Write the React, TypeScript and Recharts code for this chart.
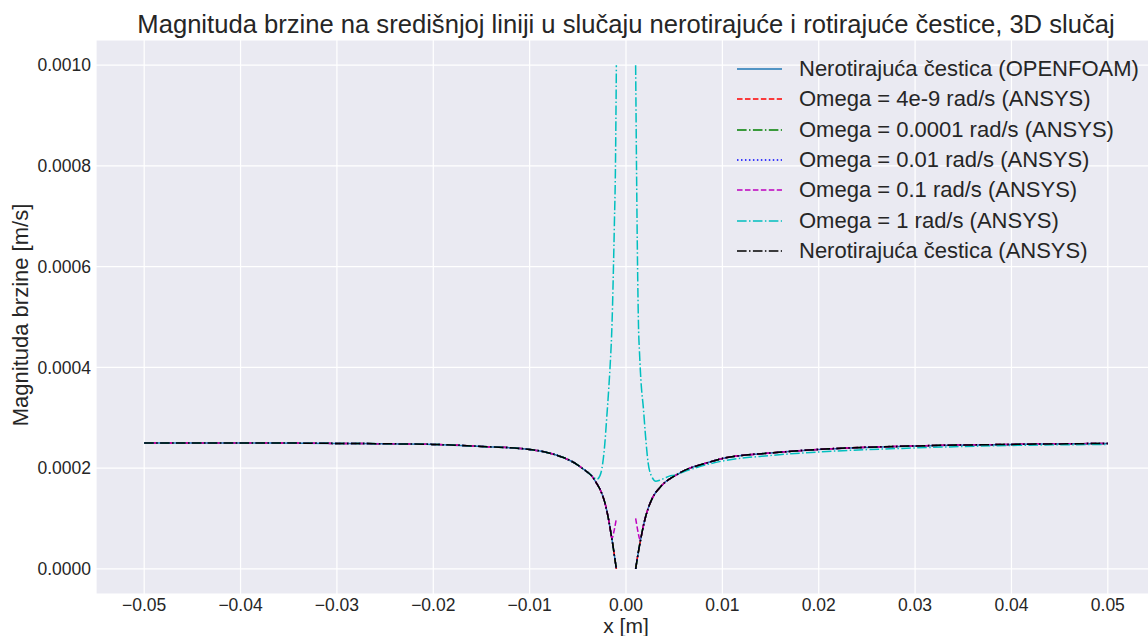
import { CartesianGrid, Line, LineChart, XAxis, YAxis } from "recharts";

// x positions along the centre line [m]; 0 is the particle (no data there)
const xs = [
  -0.05, -0.04, -0.03, -0.02, -0.015, -0.01, -0.008, -0.0065, -0.005, -0.0045, -0.004, -0.0035,
  -0.003, -0.0027, -0.0025, -0.0022, -0.002, -0.0018, -0.0016, -0.0015, -0.0014, -0.0013, -0.0012,
  -0.0011, -0.001, 0, 0.001, 0.0011, 0.0012, 0.0013, 0.0014, 0.0015, 0.0016, 0.0018, 0.002, 0.0023,
  0.0027, 0.0031, 0.0035, 0.004, 0.0045, 0.005, 0.0065, 0.008, 0.01, 0.015, 0.02, 0.03, 0.04, 0.05,
];

// non-rotating particle (OPENFOAM and ANSYS cases lie on top of each other)
const velNonRotating = [
  0.00025, 0.00025, 0.000249, 0.000247, 0.000243, 0.000237, 0.00023, 0.000221, 0.000206, 0.000199,
  0.000192, 0.000183, 0.000168, 0.000158, 0.000149, 0.000132, 0.000116, 0.000097, 0.000075, 0.000063,
  0.000052, 0.000039, 0.000026, 0.000013, 0.0, null, 0.0, 0.000012, 0.000024, 0.000035, 0.000046,
  0.000056, 0.000066, 0.000085, 0.000101, 0.00012, 0.000139, 0.000152, 0.000161, 0.000171, 0.000178,
  0.000184, 0.000199, 0.000208, 0.000219, 0.00023, 0.000237, 0.000244, 0.000247, 0.000249,
];

// omega = 0.1 rad/s
const velOmega01 = [
  0.00025, 0.00025, 0.000249, 0.000247, 0.000243, 0.000237, 0.00023, 0.000221, 0.000206, 0.000199,
  0.000192, 0.000183, 0.000168, 0.000158, 0.000149, 0.000132, 0.000116, 0.000097, 0.000075, 0.000063,
  0.000062, 0.00007, 0.000079, 0.000089, 0.0001, null, 0.0001, 0.000089, 0.000078, 0.000068, 0.00006,
  0.000059, 0.000066, 0.000085, 0.000101, 0.00012, 0.000139, 0.000152, 0.000161, 0.000171, 0.000178,
  0.000184, 0.000199, 0.000208, 0.000219, 0.00023, 0.000237, 0.000244, 0.000247, 0.000249,
];

// omega = 1 rad/s
const velOmega1 = [
  0.00025, 0.00025, 0.000249, 0.000247, 0.000243, 0.000237, 0.00023, 0.000221, 0.000206, 0.000199,
  0.000192, 0.000184, 0.000178, 0.000185, 0.000199, 0.000248, 0.0003, 0.000355, 0.00042, 0.00046,
  0.00052, 0.0006, 0.00069, 0.00079, 0.001, null, 0.001, 0.00078, 0.0006, 0.00048, 0.00043,
  0.00039, 0.00036, 0.00032, 0.00027, 0.00021, 0.000182, 0.000174, 0.000176, 0.00018, 0.000184,
  0.000186, 0.000196, 0.000205, 0.000214, 0.000225, 0.000232, 0.00024, 0.000245, 0.000247,
];

const xTicks = [-0.05, -0.04, -0.03, -0.02, -0.01, 0, 0.01, 0.02, 0.03, 0.04, 0.05];
const yTicks = [0, 0.0002, 0.0004, 0.0006, 0.0008, 0.001];

const data = xs.map((x, i) => ({
  x,
  openfoam: velNonRotating[i],
  om4e9: velNonRotating[i],
  om00001: velNonRotating[i],
  om001: velNonRotating[i],
  om01: velOmega01[i],
  om1: velOmega1[i],
  ansysNonRot: velNonRotating[i],
}));

const series = [
  { key: "openfoam", name: "Nerotirajuća čestica (OPENFOAM)", color: "#1f77b4", dash: undefined },
  { key: "om4e9", name: "Omega = 4e-9 rad/s (ANSYS)", color: "#ff0000", dash: "5.55 2.4" },
  { key: "om00001", name: "Omega = 0.0001 rad/s (ANSYS)", color: "#008000", dash: "9.6 2.4 1.5 2.4" },
  { key: "om001", name: "Omega = 0.01 rad/s (ANSYS)", color: "#0000ff", dash: "1.5 2.475" },
  { key: "om01", name: "Omega = 0.1 rad/s (ANSYS)", color: "#bf00bf", dash: "5.55 2.4" },
  { key: "om1", name: "Omega = 1 rad/s (ANSYS)", color: "#00bfbf", dash: "9.6 2.4 1.5 2.4" },
  { key: "ansysNonRot", name: "Nerotirajuća čestica (ANSYS)", color: "#000000", dash: "9.6 2.4 1.5 2.4" },
];

const font = '"Liberation Sans", Arial, sans-serif';
const textColor = "#262626";

const fmtX = (v: number) => v.toFixed(2).replace("-", "\u2212");
const fmtY = (v: number) => v.toFixed(4);

function LegendBox() {
  return (
    <div style={{ position: "absolute", left: 737, top: 54, fontFamily: font, fontSize: 22, color: textColor }}>
      {series.map((s) => (
        <div key={s.key} style={{ height: 30.33, display: "flex", alignItems: "center" }}>
          <svg width={45} height={6} style={{ display: "block" }}>
            <line x1={0} y1={3} x2={45} y2={3} stroke={s.color} strokeWidth={1.5} strokeDasharray={s.dash} />
          </svg>
          <span style={{ marginLeft: 17, whiteSpace: "nowrap" }}>{s.name}</span>
        </div>
      ))}
    </div>
  );
}

export default function App() {
  return (
    <div style={{ position: "absolute", left: 0, top: 0, width: 1148, height: 636, overflow: "hidden", background: "#fff", fontFamily: font }}>
      <div style={{ position: "relative", width: 1156, height: 636 }}>
        <LineChart width={1156} height={636} data={data} margin={{ top: 40, right: 0, bottom: 0, left: 0 }}>
          <CartesianGrid fill="#EAEAF2" stroke="#ffffff" strokeWidth={1.2} />
          <XAxis
            dataKey="x"
            type="number"
            domain={[-0.055, 0.055]}
            ticks={xTicks}
            tickFormatter={fmtX}
            axisLine={false}
            tickLine={false}
            tickSize={0}
            tickMargin={5}
            height={42}
            tick={{ fontSize: 17.5, fill: textColor, fontFamily: font }}
          />
          <YAxis
            type="number"
            domain={[-0.00005, 0.00105]}
            ticks={yTicks}
            tickFormatter={fmtY}
            axisLine={false}
            tickLine={false}
            tickSize={0}
            tickMargin={5}
            width={96}
            tick={{ fontSize: 17.5, fill: textColor, fontFamily: font }}
          />
          {series.map((s) => (
            <Line
              key={s.key}
              dataKey={s.key}
              name={s.name}
              type="monotone"
              stroke={s.color}
              strokeWidth={1.5}
              strokeDasharray={s.dash}
              dot={false}
              connectNulls={false}
              isAnimationActive={false}
            />
          ))}
        </LineChart>
        <LegendBox />
        <div style={{ position: "absolute", left: 0, width: 1252, top: 11, textAlign: "center", fontSize: 25.6, lineHeight: "26px", color: textColor, whiteSpace: "nowrap" }}>
          Magnituda brzine na središnjoj liniji u slučaju nerotirajuće i rotirajuće čestice, 3D slučaj
        </div>
        <div style={{ position: "absolute", left: 21, top: 315, transform: "translate(-50%, -50%) rotate(-90deg)", fontSize: 22, lineHeight: "22px", color: textColor, whiteSpace: "nowrap" }}>
          Magnituda brzine [m/s]
        </div>
        <div style={{ position: "absolute", left: 626, top: 617, transform: "translateX(-50%)", fontSize: 21, lineHeight: "18px", color: textColor, whiteSpace: "nowrap" }}>
          x [m]
        </div>
      </div>
    </div>
  );
}
